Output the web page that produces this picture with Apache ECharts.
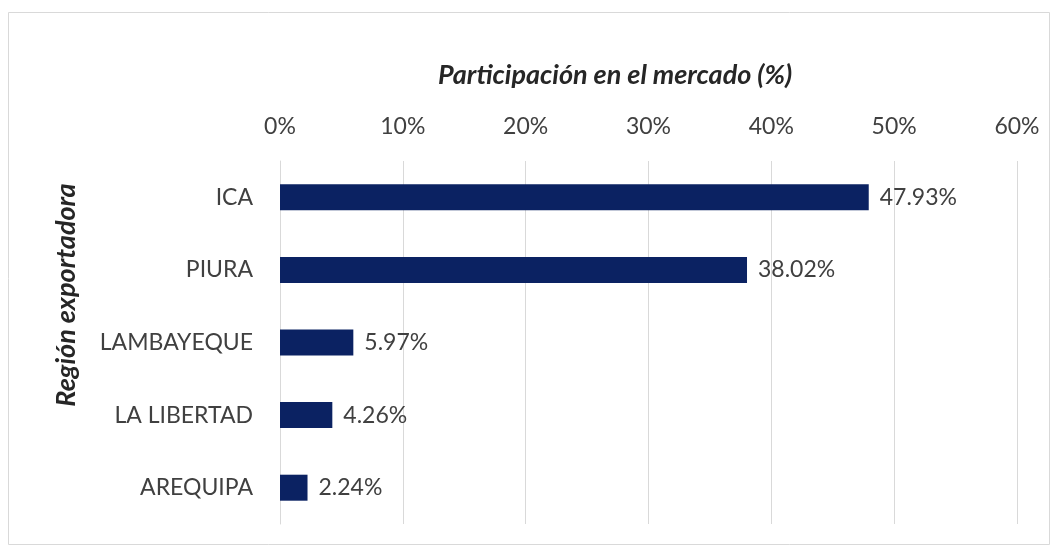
<!DOCTYPE html>
<html>
<head>
<meta charset="utf-8">
<script src="https://cdn.jsdelivr.net/npm/echarts@6/dist/echarts.min.js"></script>
<style>
  html, body { margin: 0; padding: 0; background: #fff; }
  #chart { width: 1053px; height: 546px; }
</style>
</head>
<body>
<div id="chart"></div>
<script>
// datos
const regions = ["ICA", "PIURA", "LAMBAYEQUE", "LA LIBERTAD", "AREQUIPA"];
const shares = [47.93, 38.02, 5.97, 4.26, 2.24];
const xTitle = "Participación en el mercado (%)";
const yTitle = "Región exportadora";

const chart = echarts.init(document.getElementById("chart"));
const font = "Lato, 'Open Sans', sans-serif";

chart.setOption({
  backgroundColor: "#fff",
  animation: false,
  title: {
    text: xTitle,
    left: 433,
    top: 57,
    textStyle: {
      fontFamily: font,
      fontSize: 27,
      fontStyle: "italic",
      fontWeight: "bold",
      color: "#262626",
    },
  },
  graphic: [
    {
      type: "rect",
      shape: { x: 8.5, y: 12.5, width: 1041, height: 532 },
      style: { fill: "none", stroke: "#d9d9d9", lineWidth: 1 },
      silent: true,
    },
    {
      type: "text",
      x: 66,
      y: 295,
      rotation: Math.PI / 2,
      style: {
        text: yTitle,
        fontFamily: font,
        fontSize: 27,
        fontStyle: "italic",
        fontWeight: "bold",
        fill: "#262626",
        align: "center",
        verticalAlign: "middle",
      },
    },
  ],
  grid: { left: 280, right: 36, top: 161, bottom: 22 },
  xAxis: {
    type: "value",
    position: "top",
    min: 0,
    max: 60,
    interval: 10,
    axisLine: { show: false },
    axisTick: { show: false },
    axisLabel: {
      formatter: "{value}%",
      fontFamily: font,
      fontSize: 23,
      color: "#404040",
      margin: 23,
    },
    splitLine: { lineStyle: { color: "#d9d9d9", width: 1 } },
  },
  yAxis: {
    type: "category",
    data: regions,
    inverse: true,
    axisLine: { show: true, lineStyle: { color: "#d9d9d9" } },
    axisTick: { show: false },
    axisLabel: {
      fontFamily: font,
      fontSize: 23,
      color: "#404040",
      margin: 27,
    },
  },
  series: [
    {
      type: "bar",
      data: shares,
      barWidth: 26,
      itemStyle: { color: "#0b2262" },
      label: {
        show: true,
        position: "right",
        distance: 11,
        formatter: (p) => p.value.toFixed(2) + "%",
        fontFamily: font,
        fontSize: 23,
        color: "#404040",
      },
    },
  ],
});
</script>
</body>
</html>
